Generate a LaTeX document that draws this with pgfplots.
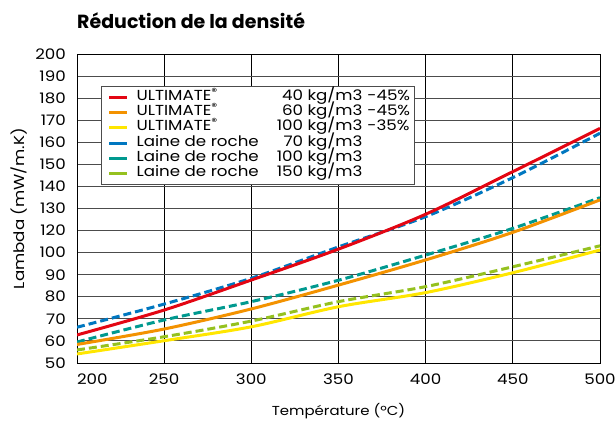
\documentclass[border=0pt]{standalone}
\usepackage{pgfplots}
\pgfplotsset{compat=1.18}
\usepackage{fontspec}
\setmainfont{Poppins}
\newfontfamily\wide{Poppins}[FakeStretch=1.15]
\definecolor{cRed}{HTML}{E30613}
\definecolor{cOrange}{HTML}{F39200}
\definecolor{cYellow}{HTML}{FFE600}
\definecolor{cBlue}{HTML}{0077C0}
\definecolor{cTeal}{HTML}{00998F}
\definecolor{cGreen}{HTML}{95C11F}
\newcommand{\tk}{\wide\fontsize{14.5}{17}\selectfont}
\newcommand{\entry}[3]{\makebox[130pt][l]{#1}\makebox[95.7pt][r]{#2}\makebox[46pt][l]{\hspace{5pt}#3}}
\begin{document}
\begin{tikzpicture}
\useasboundingbox (0,0) rectangle (615pt,421pt);
\node[anchor=base west, inner sep=0pt, font=\fontsize{19}{22}\selectfont\bfseries] at (77pt,392.7pt) {Réduction de la densité};
\begin{axis}[
  at={(77pt,58pt)}, anchor=south west,
  scale only axis, width=523pt, height=309pt,
  xmin=200, xmax=500, ymin=50, ymax=190,
  xtick={200,250,...,500},
  xticklabels={\rlap{200},250,300,350,400,450,500},
  ytick={50,60,...,190},
  yticklabels={50,60,70,80,90,100,120,130,140,150,160,170,180,190,200},
  major tick length=0pt,
  /pgf/number format/assume math mode=true,
  ticklabel style={font=\tk, inner sep=0pt},
  xticklabel style={anchor=base, yshift=-21pt},
  yticklabel style={anchor=east, xshift=-11pt},
  xmajorgrids, ymajorgrids,
  x grid style={black, line width=0.8pt},
  y grid style={black!70, line width=1pt},
  axis line style={black, line width=0.8pt},
  xlabel={Température (ºC)},
  xlabel style={font=\wide\fontsize{13}{15}\selectfont, at={(axis description cs:0.5,0)}, anchor=base, yshift=-52pt, inner sep=0pt},
  ylabel={Lambda (mW/m.K)},
  ylabel style={font=\tk, at={(axis description cs:-0.111,0.5)}, anchor=center, inner sep=0pt},
  legend cell align=left,
  legend image code/.code={\draw[#1, line width=3pt] (0pt,0pt) -- (18pt,0pt);},
  legend style={at={(axis description cs:0.046,0.896)}, anchor=north west,
    draw=black!70, line width=1.2pt, font=\tk, fill=white,
    inner xsep=6pt, inner ysep=3pt, row sep=0pt,
    nodes={inner sep=0pt, text height=10.5pt, text depth=4.8pt},
    /tikz/every odd column/.append style={column sep=8pt}},
  every axis plot/.append style={line width=3pt, smooth},
]
\addlegendimage{cRed}
\addlegendentry{\entry{ULTIMATE\textsuperscript{®}}{40 kg/m3}{-45\%}}
\addlegendimage{cOrange}
\addlegendentry{\entry{ULTIMATE\textsuperscript{®}}{60 kg/m3}{-45\%}}
\addlegendimage{cYellow}
\addlegendentry{\entry{ULTIMATE\textsuperscript{®}}{100 kg/m3}{-35\%}}
\addlegendimage{cBlue}
\addlegendentry{\entry{Laine de roche}{70 kg/m3}{}}
\addlegendimage{cTeal}
\addlegendentry{\entry{Laine de roche}{100 kg/m3}{}}
\addlegendimage{cGreen}
\addlegendentry{\entry{Laine de roche}{150 kg/m3}{}}
% rock wool (dashed)
\addplot[cBlue, dash pattern=on 8pt off 4pt, forget plot] coordinates {(200,66.2) (250,76.7) (300,88.4) (350,102.6) (400,116.3) (450,134.0) (500,154.1)};
\addplot[cTeal, dash pattern=on 8pt off 4pt, forget plot] coordinates {(200,59.5) (250,69.5) (300,77.8) (350,87.5) (400,98.9) (450,111.0) (500,124.9)};
\addplot[cGreen, dash pattern=on 8pt off 4pt, forget plot] coordinates {(200,55.9) (250,61.9) (300,69.0) (350,77.8) (400,84.6) (450,93.6) (500,103.1)};
% ULTIMATE (solid)
\addplot[cRed, forget plot] coordinates {(200,62.7) (250,74.0) (300,87.6) (350,101.6) (400,117.4) (450,136.7) (500,156.3)};
\addplot[cOrange, forget plot] coordinates {(200,58.4) (250,65.4) (300,74.5) (350,85.3) (400,96.7) (450,109.2) (500,123.9)};
\addplot[cYellow, forget plot] coordinates {(200,54.1) (250,60.1) (300,66.4) (350,75.5) (400,81.9) (450,90.9) (500,101.2)};
\end{axis}
\end{tikzpicture}
\end{document}
